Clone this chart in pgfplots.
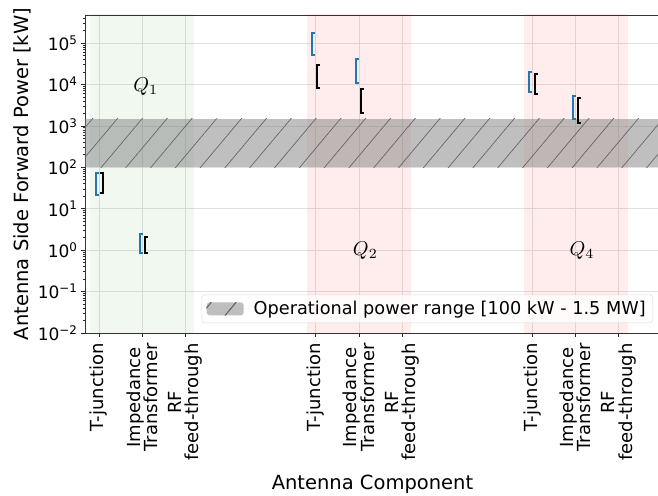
\documentclass[border=0pt]{standalone}
\usepackage{fontspec}
\setmainfont{DejaVu Sans}
\usepackage{pgfplots}
\pgfplotsset{compat=1.18}
\usetikzlibrary{patterns.meta}

\definecolor{mplblue}{HTML}{1F77B4}
\definecolor{mplgreen}{RGB}{0,128,0}
\definecolor{mplred}{RGB}{255,0,0}
\definecolor{gridc}{RGB}{225,225,225}

% error bar caps: a short stroke to the right / left of the end point
\pgfdeclareplotmark{capr}{\pgfpathmoveto{\pgfqpoint{-1pt}{0pt}}\pgfpathlineto{\pgfqpoint{3pt}{0pt}}\pgfusepathqstroke}
\pgfdeclareplotmark{capl}{\pgfpathmoveto{\pgfqpoint{1pt}{0pt}}\pgfpathlineto{\pgfqpoint{-3pt}{0pt}}\pgfusepathqstroke}

\tikzset{hatch/.style={pattern={Lines[angle=50,distance=19pt,line width=0.7pt]}, pattern color=black!60}}

\begin{document}
\begin{tikzpicture}
\begin{axis}[
    name=main,
    scale only axis,
    width=575pt, height=318pt,
    ymode=log,
    xmin=-0.32, xmax=12.95,
    ymin=1e-2, ymax=4.74e5,
    xtick={0,1,2,5,6,7,10,11,12},
    xticklabels={T-junction, Impedance\\Transformer, RF\\feed-through,
                 T-junction, Impedance\\Transformer, RF\\feed-through,
                 T-junction, Impedance\\Transformer, RF\\feed-through},
    xticklabel style={rotate=90, anchor=east, align=center, font=\fontsize{18}{17.5}\selectfont},
    xticklabel shift=3pt,
    ytick={1e-2,1e-1,1,10,100,1e3,1e4,1e5},
    yticklabels={10\textsuperscript{−2}, 10\textsuperscript{−1}, 10\textsuperscript{0}, 10\textsuperscript{1},
                 10\textsuperscript{2}, 10\textsuperscript{3}, 10\textsuperscript{4}, 10\textsuperscript{5}},
    yticklabel style={font=\fontsize{17}{20}\selectfont},
    minor ytick={0.02,0.03,0.04,0.05,0.06,0.07,0.08,0.09,
                 0.2,0.3,0.4,0.5,0.6,0.7,0.8,0.9,
                 2,3,4,5,6,7,8,9,
                 20,30,40,50,60,70,80,90,
                 200,300,400,500,600,700,800,900,
                 2000,3000,4000,5000,6000,7000,8000,9000,
                 20000,30000,40000,50000,60000,70000,80000,90000,
                 200000,300000,400000},
    xmajorgrids, ymajorgrids,
    grid style={gridc, line width=0.7pt},
    tick align=outside,
    xtick pos=bottom, ytick pos=left,
    major tick length=4pt, minor tick length=2.5pt,
    tick style={black!85, line width=0.7pt},
    axis line style={black!80, line width=0.8pt},
    xlabel={Antenna Component},
    ylabel={Antenna Side Forward Power [kW]},
    label style={font=\fontsize{19.5}{23}\selectfont},
    xlabel style={yshift=-7pt},
    unbounded coords=jump,
    legend style={at={(1,0)}, anchor=south east, xshift=-7pt, yshift=10pt,
                  font=\fontsize{17.7}{21}\selectfont,
                  draw=gray!30, rounded corners=3pt,
                  fill=white, fill opacity=0.8, text opacity=1,
                  inner xsep=5pt, inner ysep=4.5pt},
    legend cell align=left,
]

% shaded quadrant regions
\addplot[forget plot, draw=none, fill=mplgreen, fill opacity=0.06]
    coordinates {(-0.2,1e-3) (2.2,1e-3) (2.2,1e7) (-0.2,1e7)} -- cycle;
\addplot[forget plot, draw=none, fill=mplred, fill opacity=0.07]
    coordinates {(4.8,1e-3) (7.2,1e-3) (7.2,1e7) (4.8,1e7)} -- cycle;
\addplot[forget plot, draw=none, fill=mplred, fill opacity=0.07]
    coordinates {(9.8,1e-3) (12.2,1e-3) (12.2,1e7) (9.8,1e7)} -- cycle;

% operational power band
\addplot[draw=none, fill=gray, fill opacity=0.5,
    postaction={hatch, fill opacity=0.7},
    legend image code/.code={
        \fill[gray, fill opacity=0.5] (0pt,-6.5pt) rectangle (37pt,6.5pt);
        \path[hatch, fill opacity=0.7] (0pt,-6.5pt) rectangle (37pt,6.5pt);
        \path (0pt,0pt) -- (45pt,0pt);}]
    coordinates {(-1,100) (14,100) (14,1500) (-1,1500)} -- cycle;
\addlegendentry{Operational power range [100 kW - 1.5 MW]}

% ranges, blue
\addplot[forget plot, mplblue, line width=2pt, mark=capr] coordinates {
    (-0.06,21) (-0.06,74) (-0.06,nan)
    (0.94,0.87) (0.94,2.4) (0.94,nan)
    (4.92,5.1e4) (4.92,1.7e5) (4.92,nan)
    (5.94,1.07e4) (5.94,4.1e4) (5.94,nan)
    (9.93,6.6e3) (9.93,2.0e4) (9.93,nan)
    (10.94,1.5e3) (10.94,5.3e3)
};
% ranges, black
\addplot[forget plot, black, line width=2pt, mark=capl] coordinates {
    (0.09,23.5) (0.09,74)
};
\addplot[forget plot, black, line width=2pt, mark=capr] coordinates {
    (1.06,0.84) (1.06,2.1) (1.06,nan)
    (5.04,8.2e3) (5.04,3.0e4) (5.04,nan)
    (6.06,2.0e3) (6.06,7.7e3) (6.06,nan)
    (10.06,5.9e3) (10.06,1.8e4) (10.06,nan)
    (11.06,1.2e3) (11.06,4.7e3)
};

\node at (axis cs:1.08,9e3) {\scalebox{2}{$Q_1$}};
\node at (axis cs:6.15,1) {\scalebox{2}{$Q_2$}};
\node at (axis cs:11.15,1) {\scalebox{2}{$Q_4$}};
\end{axis}
\pgfresetboundingbox
\path[use as bounding box] ([shift={(-85pt,-162pt)}]main.south west)
    rectangle ([shift={(-2pt,15pt)}]main.north east);
\end{tikzpicture}
\end{document}
